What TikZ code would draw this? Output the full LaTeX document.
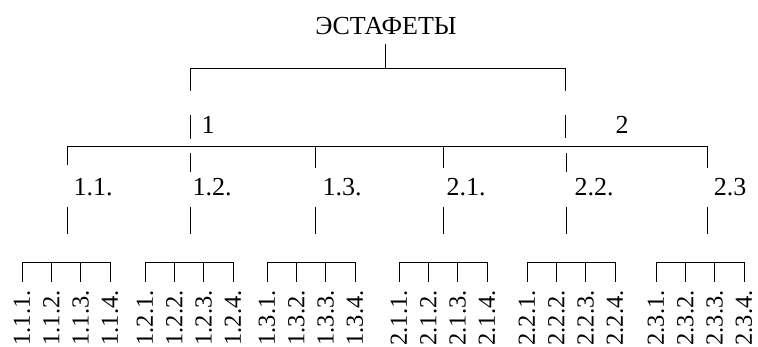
\documentclass[tikz,border=0pt]{standalone}
\usepackage{fontspec}
\setmainfont{Liberation Serif}
\begin{document}
\begin{tikzpicture}[x=1pt,y=-1pt,
  line width=0.9pt,
  lbl/.style={inner sep=0pt,font=\fontsize{26}{30}\selectfont},
  leaf/.style={inner sep=0pt,font=\fontsize{24.5}{29}\selectfont,rotate=90,anchor=east}]
\useasboundingbox (0,0) rectangle (758,347);

% root
\node[lbl] (root) at (386,26) {ЭСТАФЕТЫ};
\coordinate (rb) at (385,44);
\coordinate (rh) at (385,68);
\coordinate (hl) at (190,68);
\coordinate (hr) at (565,68);
\draw (rb) -- (rh);
\draw (hl) -- (190,91) coordinate (d1);
\draw (hl) -- (hr);
\draw (hr) -- (565,91) coordinate (d2);

% first level
\node[lbl] (n1) at (208,125) {1};
\node[lbl] (n2) at (622,125) {2};
\coordinate (u1) at (190,115);
\coordinate (v1) at (190,139);
\coordinate (u2) at (565,115);
\coordinate (v2) at (565,138);
\draw (u1) -- (v1);
\draw (u2) -- (v2);

% second level bar
\coordinate (ml) at (67,146);
\coordinate (mr) at (707,146);
\draw (ml) -- (mr);

\foreach \x/\top/\bot/\lx/\t [count=\i] in
  {67/146/165/93/1.1.,190/153/172/212/1.2.,315/146/168/342/1.3.,
   443/146/168/466/2.1.,566/153/172/594/2.2.,707/146/168/730/2.3}{
  \draw (\x,\top) coordinate (a\i) -- (\x,\bot) coordinate (b\i);
  \node[lbl] (m\i) at (\lx,187) {\t};
  \draw (\x,207) coordinate (c\i) -- (\x,234) coordinate (e\i);
}

% leaves
\foreach \g/\t in {22/1.1,145/1.2,267/1.3,399/2.1,527/2.2,656/2.3}{
  \draw (\g,282) coordinate (s\g) -- (\g,262) -- (\g+88,262) -- (\g+88,282);
  \foreach \k in {1,2,3,4}{
    \pgfmathsetmacro{\xx}{\g+(\k-1)*29.33}
    \ifnum\k>1 \ifnum\k<4 \draw (\xx,262) -- (\xx,282); \fi\fi
    \node[leaf] (l\g-\k) at (\xx,290) {\t.\k.};
  }
}
\end{tikzpicture}
\end{document}
